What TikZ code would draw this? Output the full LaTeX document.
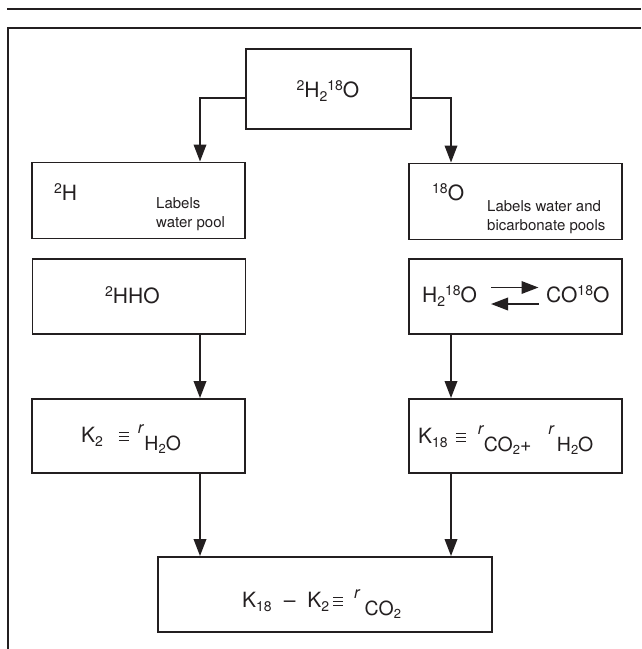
\documentclass[tikz,border=0pt]{standalone}
\usepackage{fontspec}
\setmainfont{TeX Gyre Heros}
\usetikzlibrary{arrows.meta}
\definecolor{ink}{HTML}{231F20}
\newcommand\isup[1]{\raisebox{7pt}{\fontsize{14}{14}\selectfont #1}}
\newcommand\isub[1]{\raisebox{-4pt}{\fontsize{14}{14}\selectfont #1}}
\newcommand\rr{\raisebox{9pt}{\fontsize{16.5}{16.5}\selectfont\itshape r}}
\newcommand\low[1]{\raisebox{-8pt}{\fontsize{19.5}{19.5}\selectfont #1}}
\newcommand\lsub[1]{\raisebox{-3.5pt}{\fontsize{13}{13}\selectfont #1}}
\newcommand\eqv{\rlap{\rule[1pt]{10pt}{1.1pt}}\rlap{\rule[5pt]{10pt}{1.1pt}}\rule[9pt]{10pt}{1.1pt}}
\begin{document}
\begin{tikzpicture}[x=1pt,y=-1pt,
  box/.style={draw=ink,line width=1.9pt,inner sep=0pt},
  txt/.style={inner sep=0pt,text=ink,font=\fontsize{21}{24}\selectfont},
  small/.style={inner sep=0pt,text=ink,font=\fontsize{15}{19}\selectfont},
  arr/.style={draw=ink,line width=1.9pt,-{Triangle[length=17pt,width=12.5pt]}},
  harr/.style={draw=ink,line width=1.9pt,-{Triangle[length=17pt,width=12.5pt]}}]
\useasboundingbox (0,0) rectangle (641,649);
\fill[white] (0,0) rectangle (641,649);
% rules and frame
\coordinate (tl1) at (7,9); \coordinate (tl2) at (641,9);
\draw[ink,line width=2pt] (tl1) -- (tl2);
\coordinate (f1) at (641,28); \coordinate (f2) at (8,28); \coordinate (f3) at (8,649);
\draw[ink,line width=1.9pt] (f1) -- (f2) -- (f3);
% boxes
\node[box,minimum width=165pt,minimum height=80pt] (top) at (328.5,89) {};
\node[box,minimum width=213pt,minimum height=76pt] (h2) at (138.5,200.5) {};
\node[box,minimum width=213pt,minimum height=76pt] (o18) at (515.5,201.5) {};
\node[box,minimum width=213pt,minimum height=75pt] (hho) at (139,296.5) {};
\node[box,minimum width=213pt,minimum height=75pt] (eq) at (515.5,296.5) {};
\node[box,minimum width=213pt,minimum height=74pt] (k2) at (138.5,436) {};
\node[box,minimum width=213pt,minimum height=74pt] (k18) at (515.5,436) {};
\node[box,minimum width=334pt,minimum height=75pt] (fin) at (325,594.5) {};
% texts
\node[txt,anchor=base] (ttop) at (328,97) {\isup{2}H\isub{2}\isup{18}O};
\node[txt,anchor=base west] (th) at (54,200) {\isup{2}H};
\node[small,anchor=base west] (thl1) at (156,208) {Labels};
\node[small,anchor=base west] (thl2) at (156,227) {water pool};
\node[txt,anchor=base west] (to) at (432,200) {\isup{18}O};
\node[small,anchor=base west] (tol1) at (487,211) {Labels water and};
\node[small,anchor=base west] (tol2) at (487,230) {bicarbonate pools};
\node[txt,anchor=base west] (thho) at (105,303) {\isup{2}HHO};
\node[txt,anchor=base west] (tlhs) at (422,302) {H\isub{2}\isup{18}O};
\node[txt,anchor=base west] (trhs) at (546,302) {CO\isup{18}O};
\node[txt,anchor=base west] (tk2) at (81,442)
  {K\isub{2}\hspace{16pt}\eqv\hspace{9pt}\rr\hspace{1pt}\low{H\lsub{2}O}};
\node[txt,anchor=base west] (tk18) at (418,443)
  {K\isub{18}\hspace{8pt}\eqv\hspace{12pt}\rr\hspace{0.5pt}\low{CO\lsub{2}+}\hspace{17pt}\rr\hspace{3pt}\low{H\lsub{2}O}};
\node[txt,anchor=base west] (tfin) at (242,607)
  {K\isub{18}\hspace{12pt}–\hspace{12pt}K\isub{2}\hspace{4pt}\eqv\hspace{11pt}\rr\hspace{5pt}\low{CO\lsub{2}}};
% equilibrium arrows
\coordinate (ea1) at (491,287.5); \coordinate (ea2) at (538.5,287.5);
\coordinate (eb1) at (538.5,304); \coordinate (eb2) at (491,304);
\draw[harr] (ea1) -- (ea2);
\draw[harr] (eb1) -- (eb2);
% connectors
\coordinate (ly) at (0,98);
\coordinate (lx) at (200,0);
\coordinate (rx) at (451,0);
\draw[arr] (top.west |- ly) -| (h2.north -| lx);
\draw[arr] (top.east |- ly) -| (o18.north -| rx);
\draw[arr] (hho.south -| lx) -- (k2.north -| lx);
\draw[arr] (eq.south -| rx) -- (k18.north -| rx);
\draw[arr] (k2.south -| lx) -- (fin.north -| lx);
\draw[arr] (k18.south -| rx) -- (fin.north -| rx);
\end{tikzpicture}
\end{document}
